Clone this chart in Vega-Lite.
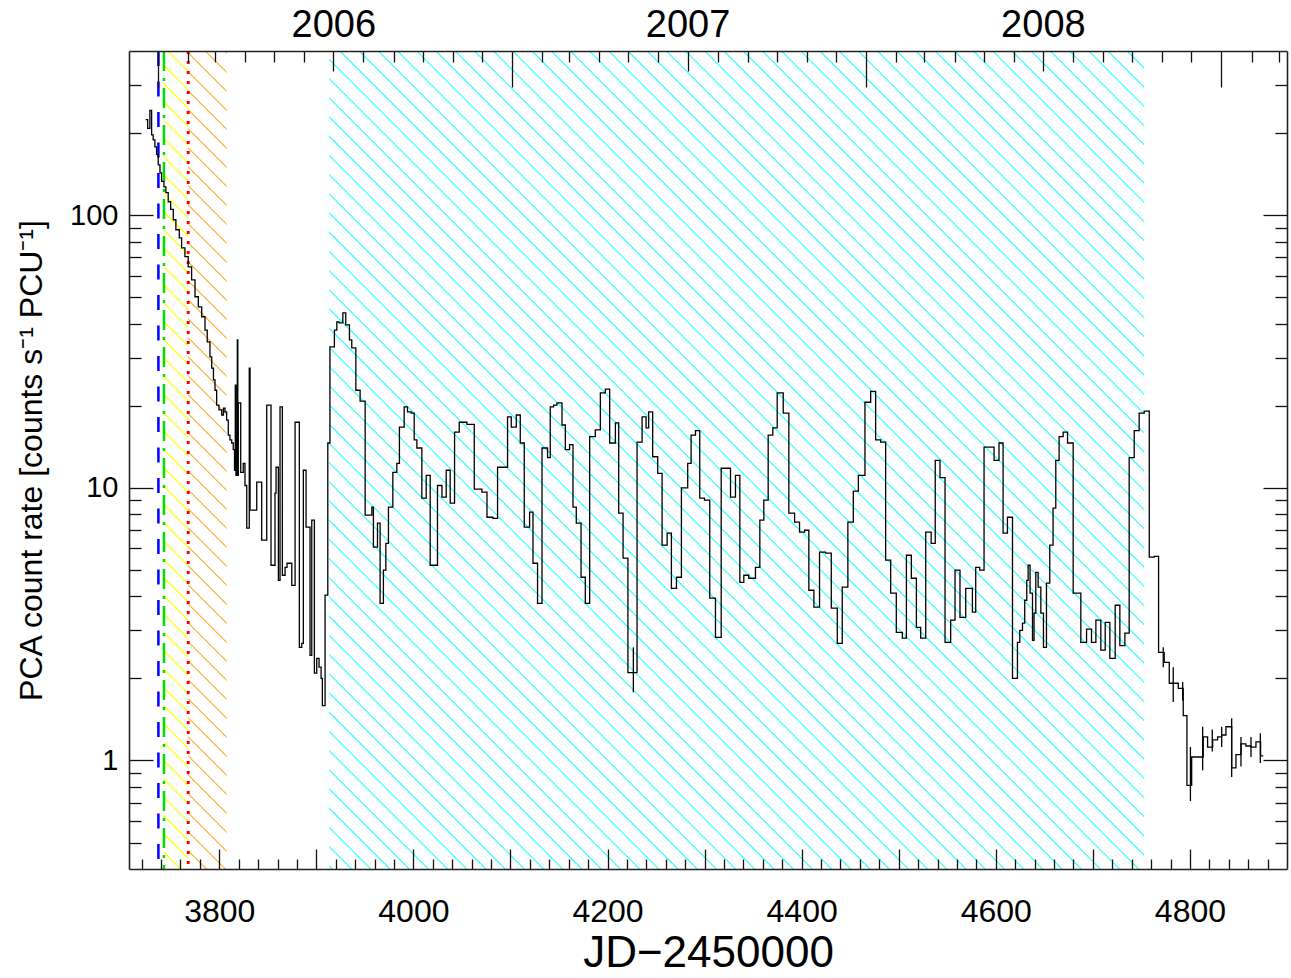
{
"$schema":"https://vega.github.io/schema/vega-lite/v6.json",
"width":1158,"height":818,
"autosize":{"type":"none"},
"padding":{"left":129,"top":51,"right":4,"bottom":109},
"background":"#ffffff",
"config":{"view":{"stroke":null},"axis":{"grid":false,"labelFont":"Liberation Sans","titleFont":"Liberation Sans","labelColor":"#000","titleColor":"#000","titleFontWeight":"normal","tickColor":"#111","tickWidth":1.3,"domainColor":"#222","domainWidth":1.6,"labelFlush":false,"labelOverlap":false}},
"datasets":{
"zones":[{"zone":"yellow","start":3743.0,"end":3768.0},{"zone":"orange","start":3768.0,"end":3807.6},{"zone":"cyan","start":3913.2,"end":4752.9}],
"markers":[{"kind":"blue","t":3737.3},{"kind":"green","t":3743.0},{"kind":"red","t":3768.0}],
"lc":[
{"t":3724.1,"r":224},{"t":3726.2,"r":208},{"t":3728.5,"r":242},{"t":3730.3,"r":197},{"t":3731.9,"r":189},{"t":3733.7,"r":178},{"t":3735.4,"r":167},{"t":3737.1,"r":153},{"t":3738.9,"r":143},{"t":3740.6,"r":133},{"t":3743.0,"r":127},{"t":3745.0,"r":121},{"t":3747.4,"r":112},{"t":3749.9,"r":105},{"t":3752.6,"r":96.2},{"t":3755.3,"r":88.4},{"t":3758.8,"r":82.6},{"t":3761.2,"r":75.9},{"t":3764.6,"r":70.4},{"t":3768.0,"r":64.6},{"t":3771.5,"r":57.9},{"t":3775.0,"r":50.2},{"t":3778.4,"r":46.1},{"t":3781.9,"r":42.4},{"t":3785.3,"r":37.9},{"t":3787.6,"r":34.3},{"t":3790.4,"r":30.2},{"t":3792.2,"r":27.5},{"t":3794.0,"r":24.9},{"t":3795.6,"r":22.8},{"t":3797.3,"r":20.1},{"t":3799.7,"r":19.3},{"t":3802.5,"r":18.5},{"t":3804.3,"r":19.6},{"t":3805.9,"r":19.0},{"t":3807.6,"r":17.7},{"t":3809.3,"r":15.6},{"t":3811.0,"r":15.0},{"t":3812.8,"r":14.6},{"t":3814.4,"r":13.8},{"t":3815.7,"r":11.6},{"t":3816.5,"r":23.8},{"t":3817.2,"r":11.1},{"t":3817.9,"r":15.0},{"t":3818.6,"r":34.9},{"t":3819.1,"r":11.1},{"t":3819.6,"r":20.5},{"t":3822.1,"r":11.4},{"t":3824.7,"r":12.3},{"t":3826.5,"r":10.2},{"t":3828.3,"r":7.11},{"t":3830.9,"r":27.5},{"t":3831.7,"r":8.28},{"t":3838.6,"r":10.5},{"t":3843.7,"r":6.43},{"t":3848.9,"r":20.1},{"t":3853.3,"r":5.2},{"t":3857.4,"r":9.56},{"t":3858.5,"r":11.9},{"t":3860.9,"r":4.58},{"t":3862.6,"r":19.8},{"t":3865.0,"r":4.78},{"t":3867.8,"r":5.11},{"t":3869.8,"r":5.29},{"t":3874.7,"r":4.39},{"t":3878.1,"r":17.4},{"t":3882.5,"r":2.6},{"t":3885.0,"r":2.69},{"t":3886.6,"r":11.6},{"t":3889.4,"r":7.17},{"t":3893.5,"r":2.43},{"t":3895.3,"r":7.61},{"t":3898.0,"r":2.09},{"t":3900.4,"r":2.37},{"t":3902.8,"r":2.2},{"t":3904.9,"r":2.0},{"t":3906.2,"r":1.59},{"t":3909.0,"r":4.04},{"t":3911.8,"r":14.6},{"t":3914.0,"r":32.9},
{"t":3918.6,"r":37.9},{"t":3921.1,"r":40.6},{"t":3923.4,"r":40.3},{"t":3927.3,"r":43.8},{"t":3930.3,"r":39.6},{"t":3934.1,"r":34.9},{"t":3936.5,"r":32.6},{"t":3940.7,"r":22.8},{"t":3945.1,"r":20.8},{"t":3950.3,"r":7.94},{"t":3957.2,"r":8.5},{"t":3958.8,"r":6.06},{"t":3963.0,"r":7.42},{"t":3965.7,"r":3.77},{"t":3969.1,"r":4.99},{"t":3971.6,"r":6.26},{"t":3974.3,"r":8.5},{"t":3978.8,"r":11.4},{"t":3982.9,"r":12.3},{"t":3985.6,"r":16.7},{"t":3990.5,"r":19.8},{"t":3993.9,"r":19.0},{"t":3997.7,"r":18.8},{"t":4000.8,"r":15.0},{"t":4003.6,"r":14.0},{"t":4008.7,"r":9.17},{"t":4013.2,"r":11.1},{"t":4017.3,"r":5.2},{"t":4024.8,"r":10.2},{"t":4029.4,"r":9.24},{"t":4033.8,"r":11.6},{"t":4037.9,"r":8.79},{"t":4042.4,"r":16.0},{"t":4047.2,"r":17.4},{"t":4055.1,"r":17.1},{"t":4062.7,"r":9.89},{"t":4070.6,"r":9.64},{"t":4075.8,"r":7.8},{"t":4081.9,"r":7.72},{"t":4086.7,"r":11.9},{"t":4097.0,"r":18.2},{"t":4100.8,"r":16.7},{"t":4106.0,"r":18.5},{"t":4110.1,"r":14.6},{"t":4114.2,"r":7.17},{"t":4119.7,"r":8.14},{"t":4123.2,"r":5.29},{"t":4127.9,"r":3.77},{"t":4132.5,"r":14.0},{"t":4138.2,"r":12.9},{"t":4141.0,"r":19.8},{"t":4144.4,"r":20.1},{"t":4147.9,"r":20.5},{"t":4153.1,"r":17.0},{"t":4156.5,"r":13.8},{"t":4160.9,"r":14.4},{"t":4164.4,"r":8.5},{"t":4167.8,"r":7.42},{"t":4172.7,"r":4.7},{"t":4177.1,"r":3.77},{"t":4181.6,"r":15.4},{"t":4187.4,"r":16.3},{"t":4192.6,"r":22.3},{"t":4197.7,"r":23.0},{"t":4202.2,"r":14.6},{"t":4208.1,"r":17.3},{"t":4211.5,"r":8.07},{"t":4216.0,"r":5.52},{"t":4221.0,"r":2.1},{"t":4230.4,"r":14.7},{"t":4235.6,"r":18.2},{"t":4239.7,"r":16.6},{"t":4242.4,"r":19.0},{"t":4246.5,"r":13.0},{"t":4251.7,"r":11.3},{"t":4256.2,"r":6.16},{"t":4261.4,"r":6.82},{"t":4265.8,"r":4.28},{"t":4271.0,"r":4.7},{"t":4276.1,"r":10.0},{"t":4282.6,"r":12.3},{"t":4286.1,"r":15.6},{"t":4290.6,"r":16.2},{"t":4295.0,"r":9.17},{"t":4299.9,"r":9.01},{"t":4305.3,"r":3.94},{"t":4311.2,"r":2.83},{"t":4317.1,"r":11.8},{"t":4326.7,"r":9.24},{"t":4331.8,"r":11.1},{"t":4336.3,"r":4.5},{"t":4340.4,"r":4.78},{"t":4345.5,"r":4.66},{"t":4352.4,"r":5.11},{"t":4356.9,"r":7.61},{"t":4361.0,"r":9.01},{"t":4365.5,"r":15.6},{"t":4370.3,"r":16.6},{"t":4374.8,"r":22.3},{"t":4381.0,"r":18.8},{"t":4386.8,"r":8.07},{"t":4392.7,"r":7.48},{"t":4397.8,"r":6.88},{"t":4403.0,"r":6.99},{"t":4407.4,"r":4.21},{"t":4412.6,"r":3.65},{"t":4418.4,"r":5.81},{"t":4424.6,"r":5.76},{"t":4430.5,"r":3.62},{"t":4436.7,"r":2.69},{"t":4441.8,"r":4.32},{"t":4447.6,"r":7.48},{"t":4453.2,"r":9.73},{"t":4458.4,"r":11.1},{"t":4465.2,"r":20.6},{"t":4471.1,"r":22.6},{"t":4476.2,"r":15.0},{"t":4481.4,"r":14.7},{"t":4486.5,"r":5.43},{"t":4491.7,"r":4.11},{"t":4497.5,"r":2.95},{"t":4503.7,"r":2.81},{"t":4507.9,"r":5.66},{"t":4513.0,"r":4.66},{"t":4518.2,"r":3.08},{"t":4522.6,"r":2.81},{"t":4527.8,"r":6.88},{"t":4533.4,"r":6.26},{"t":4537.6,"r":12.6},{"t":4542.5,"r":10.9},{"t":4547.7,"r":2.71},{"t":4553.5,"r":3.27},{"t":4558.0,"r":4.99},{"t":4563.1,"r":3.35},{"t":4569.0,"r":4.28},{"t":4575.9,"r":3.5},{"t":4579.3,"r":5.11},{"t":4583.4,"r":4.99},{"t":4587.9,"r":14.1},{"t":4598.2,"r":12.6},{"t":4603.3,"r":14.6},{"t":4607.5,"r":6.82},{"t":4612.0,"r":7.8},{"t":4617.2,"r":2.0},{"t":4622.3,"r":2.71},{"t":4624.7,"r":3.0},{"t":4627.5,"r":3.19},{"t":4629.8,"r":3.87},{"t":4631.9,"r":4.58},{"t":4633.3,"r":5.2},{"t":4635.3,"r":4.11},{"t":4637.8,"r":2.76},{"t":4639.4,"r":3.47},{"t":4641.2,"r":4.9},{"t":4643.6,"r":4.32},{"t":4646.4,"r":3.47},{"t":4649.1,"r":2.6},{"t":4652.2,"r":4.47},{"t":4655.6,"r":6.16},{"t":4659.0,"r":8.42},{"t":4661.8,"r":12.6},{"t":4665.2,"r":15.4},{"t":4669.4,"r":16.0},{"t":4673.9,"r":14.6},{"t":4679.7,"r":4.11},{"t":4687.6,"r":2.71},{"t":4693.5,"r":3.03},{"t":4698.6,"r":2.71},{"t":4703.1,"r":3.27},{"t":4708.2,"r":2.54},{"t":4712.7,"r":3.21},{"t":4717.5,"r":2.37},{"t":4723.0,"r":3.71},{"t":4727.8,"r":2.64},{"t":4733.0,"r":2.93},{"t":4737.4,"r":12.9},{"t":4742.6,"r":16.2},{"t":4747.7,"r":18.8},{"t":4752.9,"r":19.1},{"t":4758.1,"r":5.57},{"t":4763.2,"r":5.61},{"t":4767.7,"r":2.49},{"t":4773.5,"r":2.29},{"t":4778.7,"r":1.92},{"t":4783.8,"r":1.92},{"t":4788.0,"r":1.84},{"t":4793.1,"r":1.46},{"t":4796.9,"r":0.81},{"t":4801.8,"r":1.03},{"t":4813.7,"r":1.22},{"t":4818.2,"r":1.12},{"t":4823.4,"r":1.19},{"t":4828.5,"r":1.22},{"t":4832.7,"r":1.24},{"t":4837.1,"r":1.33},{"t":4843.0,"r":0.94},{"t":4847.4,"r":1.05},{"t":4852.6,"r":1.15},{"t":4857.7,"r":1.13},{"t":4862.9,"r":1.12},{"t":4868.0,"r":1.17},{"t":4872.8,"r":1.04},{"t":4875.5,"r":1.04}
],
"err":[
{"t":4226.6,"lo":1.78,"hi":2.6},{"t":4772.5,"lo":2.2,"hi":2.6},{"t":4782.8,"lo":1.64,"hi":2.2},{"t":4792.5,"lo":1.66,"hi":1.94},{"t":4800.5,"lo":0.71,"hi":1.12},{"t":4813.1,"lo":0.92,"hi":1.33},{"t":4823.0,"lo":1.08,"hi":1.3},{"t":4832.7,"lo":1.12,"hi":1.33},{"t":4843.0,"lo":0.87,"hi":1.43},{"t":4852.6,"lo":0.95,"hi":1.22},{"t":4862.9,"lo":1.03,"hi":1.22},{"t":4872.5,"lo":0.98,"hi":1.26}
]
},
"layer":[
{"data":{"name":"zones"},"transform":[{"filter":"datum.zone === 'cyan'"}],
"mark":{"type":"rect","fill":{"gradient":"linear","x1":0,"y1":1.01956,"x2":1.009281,"y2":0.006688,"stops":[
{"offset":0.01084,"color":"#0ff0"},{"offset":0.01163,"color":"#0ff"},{"offset":0.01242,"color":"#0ff0"},
{"offset":0.02247,"color":"#0ff0"},{"offset":0.02326,"color":"#0ff"},{"offset":0.02405,"color":"#0ff0"},
{"offset":0.03409,"color":"#0ff0"},{"offset":0.03488,"color":"#0ff"},{"offset":0.03567,"color":"#0ff0"},
{"offset":0.04572,"color":"#0ff0"},{"offset":0.04651,"color":"#0ff"},{"offset":0.04730,"color":"#0ff0"},
{"offset":0.05735,"color":"#0ff0"},{"offset":0.05814,"color":"#0ff"},{"offset":0.05893,"color":"#0ff0"},
{"offset":0.06898,"color":"#0ff0"},{"offset":0.06977,"color":"#0ff"},{"offset":0.07056,"color":"#0ff0"},
{"offset":0.08061,"color":"#0ff0"},{"offset":0.08140,"color":"#0ff"},{"offset":0.08219,"color":"#0ff0"},
{"offset":0.09223,"color":"#0ff0"},{"offset":0.09302,"color":"#0ff"},{"offset":0.09381,"color":"#0ff0"},
{"offset":0.10386,"color":"#0ff0"},{"offset":0.10465,"color":"#0ff"},{"offset":0.10544,"color":"#0ff0"},
{"offset":0.11549,"color":"#0ff0"},{"offset":0.11628,"color":"#0ff"},{"offset":0.11707,"color":"#0ff0"},
{"offset":0.12712,"color":"#0ff0"},{"offset":0.12791,"color":"#0ff"},{"offset":0.12870,"color":"#0ff0"},
{"offset":0.13875,"color":"#0ff0"},{"offset":0.13954,"color":"#0ff"},{"offset":0.14033,"color":"#0ff0"},
{"offset":0.15037,"color":"#0ff0"},{"offset":0.15116,"color":"#0ff"},{"offset":0.15195,"color":"#0ff0"},
{"offset":0.16200,"color":"#0ff0"},{"offset":0.16279,"color":"#0ff"},{"offset":0.16358,"color":"#0ff0"},
{"offset":0.17363,"color":"#0ff0"},{"offset":0.17442,"color":"#0ff"},{"offset":0.17521,"color":"#0ff0"},
{"offset":0.18526,"color":"#0ff0"},{"offset":0.18605,"color":"#0ff"},{"offset":0.18684,"color":"#0ff0"},
{"offset":0.19688,"color":"#0ff0"},{"offset":0.19767,"color":"#0ff"},{"offset":0.19846,"color":"#0ff0"},
{"offset":0.20851,"color":"#0ff0"},{"offset":0.20930,"color":"#0ff"},{"offset":0.21009,"color":"#0ff0"},
{"offset":0.22014,"color":"#0ff0"},{"offset":0.22093,"color":"#0ff"},{"offset":0.22172,"color":"#0ff0"},
{"offset":0.23177,"color":"#0ff0"},{"offset":0.23256,"color":"#0ff"},{"offset":0.23335,"color":"#0ff0"},
{"offset":0.24340,"color":"#0ff0"},{"offset":0.24419,"color":"#0ff"},{"offset":0.24498,"color":"#0ff0"},
{"offset":0.25502,"color":"#0ff0"},{"offset":0.25581,"color":"#0ff"},{"offset":0.25660,"color":"#0ff0"},
{"offset":0.26665,"color":"#0ff0"},{"offset":0.26744,"color":"#0ff"},{"offset":0.26823,"color":"#0ff0"},
{"offset":0.27828,"color":"#0ff0"},{"offset":0.27907,"color":"#0ff"},{"offset":0.27986,"color":"#0ff0"},
{"offset":0.28991,"color":"#0ff0"},{"offset":0.29070,"color":"#0ff"},{"offset":0.29149,"color":"#0ff0"},
{"offset":0.30154,"color":"#0ff0"},{"offset":0.30233,"color":"#0ff"},{"offset":0.30312,"color":"#0ff0"},
{"offset":0.31316,"color":"#0ff0"},{"offset":0.31395,"color":"#0ff"},{"offset":0.31474,"color":"#0ff0"},
{"offset":0.32479,"color":"#0ff0"},{"offset":0.32558,"color":"#0ff"},{"offset":0.32637,"color":"#0ff0"},
{"offset":0.33642,"color":"#0ff0"},{"offset":0.33721,"color":"#0ff"},{"offset":0.33800,"color":"#0ff0"},
{"offset":0.34805,"color":"#0ff0"},{"offset":0.34884,"color":"#0ff"},{"offset":0.34963,"color":"#0ff0"},
{"offset":0.35968,"color":"#0ff0"},{"offset":0.36047,"color":"#0ff"},{"offset":0.36126,"color":"#0ff0"},
{"offset":0.37130,"color":"#0ff0"},{"offset":0.37209,"color":"#0ff"},{"offset":0.37288,"color":"#0ff0"},
{"offset":0.38293,"color":"#0ff0"},{"offset":0.38372,"color":"#0ff"},{"offset":0.38451,"color":"#0ff0"},
{"offset":0.39456,"color":"#0ff0"},{"offset":0.39535,"color":"#0ff"},{"offset":0.39614,"color":"#0ff0"},
{"offset":0.40619,"color":"#0ff0"},{"offset":0.40698,"color":"#0ff"},{"offset":0.40777,"color":"#0ff0"},
{"offset":0.41782,"color":"#0ff0"},{"offset":0.41861,"color":"#0ff"},{"offset":0.41940,"color":"#0ff0"},
{"offset":0.42944,"color":"#0ff0"},{"offset":0.43023,"color":"#0ff"},{"offset":0.43102,"color":"#0ff0"},
{"offset":0.44107,"color":"#0ff0"},{"offset":0.44186,"color":"#0ff"},{"offset":0.44265,"color":"#0ff0"},
{"offset":0.45270,"color":"#0ff0"},{"offset":0.45349,"color":"#0ff"},{"offset":0.45428,"color":"#0ff0"},
{"offset":0.46433,"color":"#0ff0"},{"offset":0.46512,"color":"#0ff"},{"offset":0.46591,"color":"#0ff0"},
{"offset":0.47595,"color":"#0ff0"},{"offset":0.47674,"color":"#0ff"},{"offset":0.47753,"color":"#0ff0"},
{"offset":0.48758,"color":"#0ff0"},{"offset":0.48837,"color":"#0ff"},{"offset":0.48916,"color":"#0ff0"},
{"offset":0.49921,"color":"#0ff0"},{"offset":0.50000,"color":"#0ff"},{"offset":0.50079,"color":"#0ff0"},
{"offset":0.51084,"color":"#0ff0"},{"offset":0.51163,"color":"#0ff"},{"offset":0.51242,"color":"#0ff0"},
{"offset":0.52247,"color":"#0ff0"},{"offset":0.52326,"color":"#0ff"},{"offset":0.52405,"color":"#0ff0"},
{"offset":0.53409,"color":"#0ff0"},{"offset":0.53488,"color":"#0ff"},{"offset":0.53567,"color":"#0ff0"},
{"offset":0.54572,"color":"#0ff0"},{"offset":0.54651,"color":"#0ff"},{"offset":0.54730,"color":"#0ff0"},
{"offset":0.55735,"color":"#0ff0"},{"offset":0.55814,"color":"#0ff"},{"offset":0.55893,"color":"#0ff0"},
{"offset":0.56898,"color":"#0ff0"},{"offset":0.56977,"color":"#0ff"},{"offset":0.57056,"color":"#0ff0"},
{"offset":0.58061,"color":"#0ff0"},{"offset":0.58140,"color":"#0ff"},{"offset":0.58219,"color":"#0ff0"},
{"offset":0.59223,"color":"#0ff0"},{"offset":0.59302,"color":"#0ff"},{"offset":0.59381,"color":"#0ff0"},
{"offset":0.60386,"color":"#0ff0"},{"offset":0.60465,"color":"#0ff"},{"offset":0.60544,"color":"#0ff0"},
{"offset":0.61549,"color":"#0ff0"},{"offset":0.61628,"color":"#0ff"},{"offset":0.61707,"color":"#0ff0"},
{"offset":0.62712,"color":"#0ff0"},{"offset":0.62791,"color":"#0ff"},{"offset":0.62870,"color":"#0ff0"},
{"offset":0.63875,"color":"#0ff0"},{"offset":0.63954,"color":"#0ff"},{"offset":0.64033,"color":"#0ff0"},
{"offset":0.65037,"color":"#0ff0"},{"offset":0.65116,"color":"#0ff"},{"offset":0.65195,"color":"#0ff0"},
{"offset":0.66200,"color":"#0ff0"},{"offset":0.66279,"color":"#0ff"},{"offset":0.66358,"color":"#0ff0"},
{"offset":0.67363,"color":"#0ff0"},{"offset":0.67442,"color":"#0ff"},{"offset":0.67521,"color":"#0ff0"},
{"offset":0.68526,"color":"#0ff0"},{"offset":0.68605,"color":"#0ff"},{"offset":0.68684,"color":"#0ff0"},
{"offset":0.69688,"color":"#0ff0"},{"offset":0.69767,"color":"#0ff"},{"offset":0.69846,"color":"#0ff0"},
{"offset":0.70851,"color":"#0ff0"},{"offset":0.70930,"color":"#0ff"},{"offset":0.71009,"color":"#0ff0"},
{"offset":0.72014,"color":"#0ff0"},{"offset":0.72093,"color":"#0ff"},{"offset":0.72172,"color":"#0ff0"},
{"offset":0.73177,"color":"#0ff0"},{"offset":0.73256,"color":"#0ff"},{"offset":0.73335,"color":"#0ff0"},
{"offset":0.74340,"color":"#0ff0"},{"offset":0.74419,"color":"#0ff"},{"offset":0.74498,"color":"#0ff0"},
{"offset":0.75502,"color":"#0ff0"},{"offset":0.75581,"color":"#0ff"},{"offset":0.75660,"color":"#0ff0"},
{"offset":0.76665,"color":"#0ff0"},{"offset":0.76744,"color":"#0ff"},{"offset":0.76823,"color":"#0ff0"},
{"offset":0.77828,"color":"#0ff0"},{"offset":0.77907,"color":"#0ff"},{"offset":0.77986,"color":"#0ff0"},
{"offset":0.78991,"color":"#0ff0"},{"offset":0.79070,"color":"#0ff"},{"offset":0.79149,"color":"#0ff0"},
{"offset":0.80154,"color":"#0ff0"},{"offset":0.80233,"color":"#0ff"},{"offset":0.80312,"color":"#0ff0"},
{"offset":0.81316,"color":"#0ff0"},{"offset":0.81395,"color":"#0ff"},{"offset":0.81474,"color":"#0ff0"},
{"offset":0.82479,"color":"#0ff0"},{"offset":0.82558,"color":"#0ff"},{"offset":0.82637,"color":"#0ff0"},
{"offset":0.83642,"color":"#0ff0"},{"offset":0.83721,"color":"#0ff"},{"offset":0.83800,"color":"#0ff0"},
{"offset":0.84805,"color":"#0ff0"},{"offset":0.84884,"color":"#0ff"},{"offset":0.84963,"color":"#0ff0"},
{"offset":0.85968,"color":"#0ff0"},{"offset":0.86047,"color":"#0ff"},{"offset":0.86126,"color":"#0ff0"},
{"offset":0.87130,"color":"#0ff0"},{"offset":0.87209,"color":"#0ff"},{"offset":0.87288,"color":"#0ff0"},
{"offset":0.88293,"color":"#0ff0"},{"offset":0.88372,"color":"#0ff"},{"offset":0.88451,"color":"#0ff0"},
{"offset":0.89456,"color":"#0ff0"},{"offset":0.89535,"color":"#0ff"},{"offset":0.89614,"color":"#0ff0"},
{"offset":0.90619,"color":"#0ff0"},{"offset":0.90698,"color":"#0ff"},{"offset":0.90777,"color":"#0ff0"},
{"offset":0.91782,"color":"#0ff0"},{"offset":0.91861,"color":"#0ff"},{"offset":0.91940,"color":"#0ff0"},
{"offset":0.92944,"color":"#0ff0"},{"offset":0.93023,"color":"#0ff"},{"offset":0.93102,"color":"#0ff0"},
{"offset":0.94107,"color":"#0ff0"},{"offset":0.94186,"color":"#0ff"},{"offset":0.94265,"color":"#0ff0"},
{"offset":0.95270,"color":"#0ff0"},{"offset":0.95349,"color":"#0ff"},{"offset":0.95428,"color":"#0ff0"},
{"offset":0.96433,"color":"#0ff0"},{"offset":0.96512,"color":"#0ff"},{"offset":0.96591,"color":"#0ff0"},
{"offset":0.97595,"color":"#0ff0"},{"offset":0.97674,"color":"#0ff"},{"offset":0.97753,"color":"#0ff0"},
{"offset":0.98758,"color":"#0ff0"},{"offset":0.98837,"color":"#0ff"},{"offset":0.98916,"color":"#0ff0"}
]}},
"encoding":{
"x":{"field":"start","type":"quantitative","scale":{"domain":[3707,4900],"nice":false,"zero":false},
"axis":{"orient":"bottom","values":[3800,4000,4200,4400,4600,4800],"format":"d","ticks":false,"tickSize":0,"domain":false,"labelFontSize":32,"labelPadding":52,"labelBaseline":"alphabetic","title":"JD−2450000","titleFontSize":44,"titleY":97,"titleBaseline":"alphabetic"}},
"x2":{"field":"end"},
"y":{"datum":0.4,"type":"quantitative","scale":{"type":"log","domain":[0.4,400],"nice":false},
"axis":{"orient":"left","values":[1,10,100],"format":"~g","ticks":false,"tickSize":0,"domain":false,"labelFontSize":29,"labelPadding":11,"title":"PCA count rate [counts s⁻¹ PCU⁻¹]","titleFontSize":32,"titleX":-88,"titleY":409,"titleAngle":270,"titleAlign":"center","titleBaseline":"alphabetic"}},
"y2":{"datum":400}}},
{"data":{"name":"zones"},"transform":[{"filter":"datum.zone === 'yellow'"}],
"mark":{"type":"rect","fill":{"gradient":"linear","x1":0,"y1":1.002078,"x2":0.031169,"y2":-0.048463,"stops":[
{"offset":0.01930,"color":"#ff00"},{"offset":0.02128,"color":"#ff0"},{"offset":0.02326,"color":"#ff00"},
{"offset":0.04057,"color":"#ff00"},{"offset":0.04255,"color":"#ff0"},{"offset":0.04453,"color":"#ff00"},
{"offset":0.06185,"color":"#ff00"},{"offset":0.06383,"color":"#ff0"},{"offset":0.06581,"color":"#ff00"},
{"offset":0.08313,"color":"#ff00"},{"offset":0.08511,"color":"#ff0"},{"offset":0.08709,"color":"#ff00"},
{"offset":0.10440,"color":"#ff00"},{"offset":0.10638,"color":"#ff0"},{"offset":0.10836,"color":"#ff00"},
{"offset":0.12568,"color":"#ff00"},{"offset":0.12766,"color":"#ff0"},{"offset":0.12964,"color":"#ff00"},
{"offset":0.14696,"color":"#ff00"},{"offset":0.14894,"color":"#ff0"},{"offset":0.15092,"color":"#ff00"},
{"offset":0.16823,"color":"#ff00"},{"offset":0.17021,"color":"#ff0"},{"offset":0.17219,"color":"#ff00"},
{"offset":0.18951,"color":"#ff00"},{"offset":0.19149,"color":"#ff0"},{"offset":0.19347,"color":"#ff00"},
{"offset":0.21079,"color":"#ff00"},{"offset":0.21277,"color":"#ff0"},{"offset":0.21475,"color":"#ff00"},
{"offset":0.23206,"color":"#ff00"},{"offset":0.23404,"color":"#ff0"},{"offset":0.23602,"color":"#ff00"},
{"offset":0.25334,"color":"#ff00"},{"offset":0.25532,"color":"#ff0"},{"offset":0.25730,"color":"#ff00"},
{"offset":0.27462,"color":"#ff00"},{"offset":0.27660,"color":"#ff0"},{"offset":0.27858,"color":"#ff00"},
{"offset":0.29589,"color":"#ff00"},{"offset":0.29787,"color":"#ff0"},{"offset":0.29985,"color":"#ff00"},
{"offset":0.31717,"color":"#ff00"},{"offset":0.31915,"color":"#ff0"},{"offset":0.32113,"color":"#ff00"},
{"offset":0.33845,"color":"#ff00"},{"offset":0.34043,"color":"#ff0"},{"offset":0.34241,"color":"#ff00"},
{"offset":0.35972,"color":"#ff00"},{"offset":0.36170,"color":"#ff0"},{"offset":0.36368,"color":"#ff00"},
{"offset":0.38100,"color":"#ff00"},{"offset":0.38298,"color":"#ff0"},{"offset":0.38496,"color":"#ff00"},
{"offset":0.40228,"color":"#ff00"},{"offset":0.40426,"color":"#ff0"},{"offset":0.40624,"color":"#ff00"},
{"offset":0.42355,"color":"#ff00"},{"offset":0.42553,"color":"#ff0"},{"offset":0.42751,"color":"#ff00"},
{"offset":0.44483,"color":"#ff00"},{"offset":0.44681,"color":"#ff0"},{"offset":0.44879,"color":"#ff00"},
{"offset":0.46611,"color":"#ff00"},{"offset":0.46809,"color":"#ff0"},{"offset":0.47007,"color":"#ff00"},
{"offset":0.48738,"color":"#ff00"},{"offset":0.48936,"color":"#ff0"},{"offset":0.49134,"color":"#ff00"},
{"offset":0.50866,"color":"#ff00"},{"offset":0.51064,"color":"#ff0"},{"offset":0.51262,"color":"#ff00"},
{"offset":0.52994,"color":"#ff00"},{"offset":0.53192,"color":"#ff0"},{"offset":0.53390,"color":"#ff00"},
{"offset":0.55121,"color":"#ff00"},{"offset":0.55319,"color":"#ff0"},{"offset":0.55517,"color":"#ff00"},
{"offset":0.57249,"color":"#ff00"},{"offset":0.57447,"color":"#ff0"},{"offset":0.57645,"color":"#ff00"},
{"offset":0.59377,"color":"#ff00"},{"offset":0.59575,"color":"#ff0"},{"offset":0.59773,"color":"#ff00"},
{"offset":0.61504,"color":"#ff00"},{"offset":0.61702,"color":"#ff0"},{"offset":0.61900,"color":"#ff00"},
{"offset":0.63632,"color":"#ff00"},{"offset":0.63830,"color":"#ff0"},{"offset":0.64028,"color":"#ff00"},
{"offset":0.65759,"color":"#ff00"},{"offset":0.65957,"color":"#ff0"},{"offset":0.66155,"color":"#ff00"},
{"offset":0.67887,"color":"#ff00"},{"offset":0.68085,"color":"#ff0"},{"offset":0.68283,"color":"#ff00"},
{"offset":0.70015,"color":"#ff00"},{"offset":0.70213,"color":"#ff0"},{"offset":0.70411,"color":"#ff00"},
{"offset":0.72142,"color":"#ff00"},{"offset":0.72340,"color":"#ff0"},{"offset":0.72538,"color":"#ff00"},
{"offset":0.74270,"color":"#ff00"},{"offset":0.74468,"color":"#ff0"},{"offset":0.74666,"color":"#ff00"},
{"offset":0.76398,"color":"#ff00"},{"offset":0.76596,"color":"#ff0"},{"offset":0.76794,"color":"#ff00"},
{"offset":0.78525,"color":"#ff00"},{"offset":0.78723,"color":"#ff0"},{"offset":0.78921,"color":"#ff00"},
{"offset":0.80653,"color":"#ff00"},{"offset":0.80851,"color":"#ff0"},{"offset":0.81049,"color":"#ff00"},
{"offset":0.82781,"color":"#ff00"},{"offset":0.82979,"color":"#ff0"},{"offset":0.83177,"color":"#ff00"},
{"offset":0.84908,"color":"#ff00"},{"offset":0.85106,"color":"#ff0"},{"offset":0.85304,"color":"#ff00"},
{"offset":0.87036,"color":"#ff00"},{"offset":0.87234,"color":"#ff0"},{"offset":0.87432,"color":"#ff00"},
{"offset":0.89164,"color":"#ff00"},{"offset":0.89362,"color":"#ff0"},{"offset":0.89560,"color":"#ff00"},
{"offset":0.91291,"color":"#ff00"},{"offset":0.91489,"color":"#ff0"},{"offset":0.91687,"color":"#ff00"},
{"offset":0.93419,"color":"#ff00"},{"offset":0.93617,"color":"#ff0"},{"offset":0.93815,"color":"#ff00"},
{"offset":0.95547,"color":"#ff00"},{"offset":0.95745,"color":"#ff0"},{"offset":0.95943,"color":"#ff00"},
{"offset":0.97674,"color":"#ff00"},{"offset":0.97872,"color":"#ff0"},{"offset":0.98070,"color":"#ff00"}
]}},
"encoding":{
"x":{"field":"start","type":"quantitative","scale":{"domain":[3707,4900],"nice":false,"zero":false},
"axis":{"orient":"top","values":[3736.5,3767.5,3795.5,3826.5,3856.5,3887.5,3917.5,3948.5,3979.5,4009.5,4040.5,4070.5,4101.5,4132.5,4160.5,4191.5,4221.5,4252.5,4282.5,4313.5,4344.5,4374.5,4405.5,4435.5,4466.5,4497.5,4526.5,4557.5,4587.5,4618.5,4648.5,4679.5,4710.5,4740.5,4771.5,4801.5,4832.5,4863.5,4891.5],"labels":false,"domain":true,"title":null,"zindex":2,
"tickSize":{"condition":[{"test":"indexof([3736.5,4101.5,4466.5,4832.5], datum.value) >= 0","value":-36},{"test":"indexof([3917.5,4282.5,4648.5], datum.value) >= 0","value":-20}],"value":-11}}},
"x2":{"field":"end"},
"y":{"datum":0.4,"type":"quantitative","scale":{"type":"log","domain":[0.4,400],"nice":false},
"axis":{"orient":"right","values":[0.5,0.6,0.7,0.8,0.9,1,2,3,4,5,6,7,8,9,10,20,30,40,50,60,70,80,90,100,200,300],"labels":false,"domain":true,"title":null,"zindex":2,
"tickSize":{"condition":{"test":"datum.value === 1 || datum.value === 10 || datum.value === 100","value":-24},"value":-12}}},
"y2":{"datum":400}}},
{"data":{"name":"zones"},"transform":[{"filter":"datum.zone === 'orange'"}],
"mark":{"type":"rect","fill":{"gradient":"linear","x1":0,"y1":1.0011,"x2":0.050099,"y2":-0.065008,"stops":[
{"offset":0.02025,"color":"#f900"},{"offset":0.02174,"color":"#f90"},{"offset":0.02323,"color":"#f900"},
{"offset":0.04199,"color":"#f900"},{"offset":0.04348,"color":"#f90"},{"offset":0.04497,"color":"#f900"},
{"offset":0.06373,"color":"#f900"},{"offset":0.06522,"color":"#f90"},{"offset":0.06671,"color":"#f900"},
{"offset":0.08547,"color":"#f900"},{"offset":0.08696,"color":"#f90"},{"offset":0.08845,"color":"#f900"},
{"offset":0.10721,"color":"#f900"},{"offset":0.10870,"color":"#f90"},{"offset":0.11019,"color":"#f900"},
{"offset":0.12895,"color":"#f900"},{"offset":0.13044,"color":"#f90"},{"offset":0.13193,"color":"#f900"},
{"offset":0.15068,"color":"#f900"},{"offset":0.15217,"color":"#f90"},{"offset":0.15366,"color":"#f900"},
{"offset":0.17242,"color":"#f900"},{"offset":0.17391,"color":"#f90"},{"offset":0.17540,"color":"#f900"},
{"offset":0.19416,"color":"#f900"},{"offset":0.19565,"color":"#f90"},{"offset":0.19714,"color":"#f900"},
{"offset":0.21590,"color":"#f900"},{"offset":0.21739,"color":"#f90"},{"offset":0.21888,"color":"#f900"},
{"offset":0.23764,"color":"#f900"},{"offset":0.23913,"color":"#f90"},{"offset":0.24062,"color":"#f900"},
{"offset":0.25938,"color":"#f900"},{"offset":0.26087,"color":"#f90"},{"offset":0.26236,"color":"#f900"},
{"offset":0.28112,"color":"#f900"},{"offset":0.28261,"color":"#f90"},{"offset":0.28410,"color":"#f900"},
{"offset":0.30286,"color":"#f900"},{"offset":0.30435,"color":"#f90"},{"offset":0.30584,"color":"#f900"},
{"offset":0.32460,"color":"#f900"},{"offset":0.32609,"color":"#f90"},{"offset":0.32758,"color":"#f900"},
{"offset":0.34634,"color":"#f900"},{"offset":0.34783,"color":"#f90"},{"offset":0.34932,"color":"#f900"},
{"offset":0.36808,"color":"#f900"},{"offset":0.36957,"color":"#f90"},{"offset":0.37106,"color":"#f900"},
{"offset":0.38981,"color":"#f900"},{"offset":0.39130,"color":"#f90"},{"offset":0.39279,"color":"#f900"},
{"offset":0.41155,"color":"#f900"},{"offset":0.41304,"color":"#f90"},{"offset":0.41453,"color":"#f900"},
{"offset":0.43329,"color":"#f900"},{"offset":0.43478,"color":"#f90"},{"offset":0.43627,"color":"#f900"},
{"offset":0.45503,"color":"#f900"},{"offset":0.45652,"color":"#f90"},{"offset":0.45801,"color":"#f900"},
{"offset":0.47677,"color":"#f900"},{"offset":0.47826,"color":"#f90"},{"offset":0.47975,"color":"#f900"},
{"offset":0.49851,"color":"#f900"},{"offset":0.50000,"color":"#f90"},{"offset":0.50149,"color":"#f900"},
{"offset":0.52025,"color":"#f900"},{"offset":0.52174,"color":"#f90"},{"offset":0.52323,"color":"#f900"},
{"offset":0.54199,"color":"#f900"},{"offset":0.54348,"color":"#f90"},{"offset":0.54497,"color":"#f900"},
{"offset":0.56373,"color":"#f900"},{"offset":0.56522,"color":"#f90"},{"offset":0.56671,"color":"#f900"},
{"offset":0.58547,"color":"#f900"},{"offset":0.58696,"color":"#f90"},{"offset":0.58845,"color":"#f900"},
{"offset":0.60721,"color":"#f900"},{"offset":0.60870,"color":"#f90"},{"offset":0.61019,"color":"#f900"},
{"offset":0.62895,"color":"#f900"},{"offset":0.63044,"color":"#f90"},{"offset":0.63193,"color":"#f900"},
{"offset":0.65068,"color":"#f900"},{"offset":0.65217,"color":"#f90"},{"offset":0.65366,"color":"#f900"},
{"offset":0.67242,"color":"#f900"},{"offset":0.67391,"color":"#f90"},{"offset":0.67540,"color":"#f900"},
{"offset":0.69416,"color":"#f900"},{"offset":0.69565,"color":"#f90"},{"offset":0.69714,"color":"#f900"},
{"offset":0.71590,"color":"#f900"},{"offset":0.71739,"color":"#f90"},{"offset":0.71888,"color":"#f900"},
{"offset":0.73764,"color":"#f900"},{"offset":0.73913,"color":"#f90"},{"offset":0.74062,"color":"#f900"},
{"offset":0.75938,"color":"#f900"},{"offset":0.76087,"color":"#f90"},{"offset":0.76236,"color":"#f900"},
{"offset":0.78112,"color":"#f900"},{"offset":0.78261,"color":"#f90"},{"offset":0.78410,"color":"#f900"},
{"offset":0.80286,"color":"#f900"},{"offset":0.80435,"color":"#f90"},{"offset":0.80584,"color":"#f900"},
{"offset":0.82460,"color":"#f900"},{"offset":0.82609,"color":"#f90"},{"offset":0.82758,"color":"#f900"},
{"offset":0.84634,"color":"#f900"},{"offset":0.84783,"color":"#f90"},{"offset":0.84932,"color":"#f900"},
{"offset":0.86808,"color":"#f900"},{"offset":0.86957,"color":"#f90"},{"offset":0.87106,"color":"#f900"},
{"offset":0.88981,"color":"#f900"},{"offset":0.89130,"color":"#f90"},{"offset":0.89279,"color":"#f900"},
{"offset":0.91155,"color":"#f900"},{"offset":0.91304,"color":"#f90"},{"offset":0.91453,"color":"#f900"},
{"offset":0.93329,"color":"#f900"},{"offset":0.93478,"color":"#f90"},{"offset":0.93627,"color":"#f900"},
{"offset":0.95503,"color":"#f900"},{"offset":0.95652,"color":"#f90"},{"offset":0.95801,"color":"#f900"},
{"offset":0.97677,"color":"#f900"},{"offset":0.97826,"color":"#f90"},{"offset":0.97975,"color":"#f900"}
]}},
"encoding":{
"x":{"field":"start","type":"quantitative","scale":{"domain":[3707,4900],"nice":false,"zero":false},
"axis":{"orient":"top","values":[3917.5,4282.5,4648.5],"labelExpr":"datum.value < 4000 ? '2006' : (datum.value < 4400 ? '2007' : '2008')","ticks":false,"tickSize":0,"domain":false,"labelFontSize":38,"labelPadding":15,"labelBaseline":"alphabetic","title":null}},
"x2":{"field":"end"},
"y":{"datum":0.4,"type":"quantitative","scale":{"type":"log","domain":[0.4,400],"nice":false},"axis":null},
"y2":{"datum":400}}},
{"data":{"name":"markers"},"transform":[{"filter":"datum.kind === 'blue'"}],
"mark":{"type":"rule","color":"#0000ff","strokeWidth":2.5,"strokeDash":[15,15.5]},
"encoding":{"x":{"field":"t","type":"quantitative","scale":{"domain":[3707,4900],"nice":false,"zero":false},"axis":null}}},
{"data":{"name":"markers"},"transform":[{"filter":"datum.kind === 'green'"}],
"mark":{"type":"rule","color":"#00e000","strokeWidth":2.5,"strokeDash":[20,7,3,7]},
"encoding":{"x":{"field":"t","type":"quantitative","scale":{"domain":[3707,4900],"nice":false,"zero":false},"axis":null}}},
{"data":{"name":"markers"},"transform":[{"filter":"datum.kind === 'red'"}],
"mark":{"type":"rule","color":"#ff0000","strokeWidth":3,"strokeDash":[3,7]},
"encoding":{"x":{"field":"t","type":"quantitative","scale":{"domain":[3707,4900],"nice":false,"zero":false},"axis":null}}},
{"data":{"name":"lc"},
"mark":{"type":"line","interpolate":"step-after","color":"#000","strokeWidth":1.3},
"encoding":{
"x":{"field":"t","type":"quantitative","scale":{"domain":[3707,4900],"nice":false,"zero":false},
"axis":{"orient":"bottom","values":[3720,3740,3760,3780,3800,3820,3840,3860,3880,3900,3920,3940,3960,3980,4000,4020,4040,4060,4080,4100,4120,4140,4160,4180,4200,4220,4240,4260,4280,4300,4320,4340,4360,4380,4400,4420,4440,4460,4480,4500,4520,4540,4560,4580,4600,4620,4640,4660,4680,4700,4720,4740,4760,4780,4800,4820,4840,4860,4880],"labels":false,"domain":true,"title":null,"zindex":2,
"tickSize":{"condition":{"test":"datum.value % 100 === 0","value":-20},"value":-10}}},
"y":{"field":"r","type":"quantitative","scale":{"type":"log","domain":[0.4,400],"nice":false},
"axis":{"orient":"left","values":[0.5,0.6,0.7,0.8,0.9,1,2,3,4,5,6,7,8,9,10,20,30,40,50,60,70,80,90,100,200,300],"labels":false,"domain":true,"title":null,"zindex":2,
"tickSize":{"condition":{"test":"datum.value === 1 || datum.value === 10 || datum.value === 100","value":-24},"value":-12}}}}},
{"data":{"name":"err"},
"mark":{"type":"rule","color":"#000","strokeWidth":1.3},
"encoding":{
"x":{"field":"t","type":"quantitative","scale":{"domain":[3707,4900],"nice":false,"zero":false},"axis":null},
"y":{"field":"lo","type":"quantitative","scale":{"type":"log","domain":[0.4,400],"nice":false},"axis":null},
"y2":{"field":"hi"}}}
],
"resolve":{"axis":{"x":"independent","y":"independent"}}
}
